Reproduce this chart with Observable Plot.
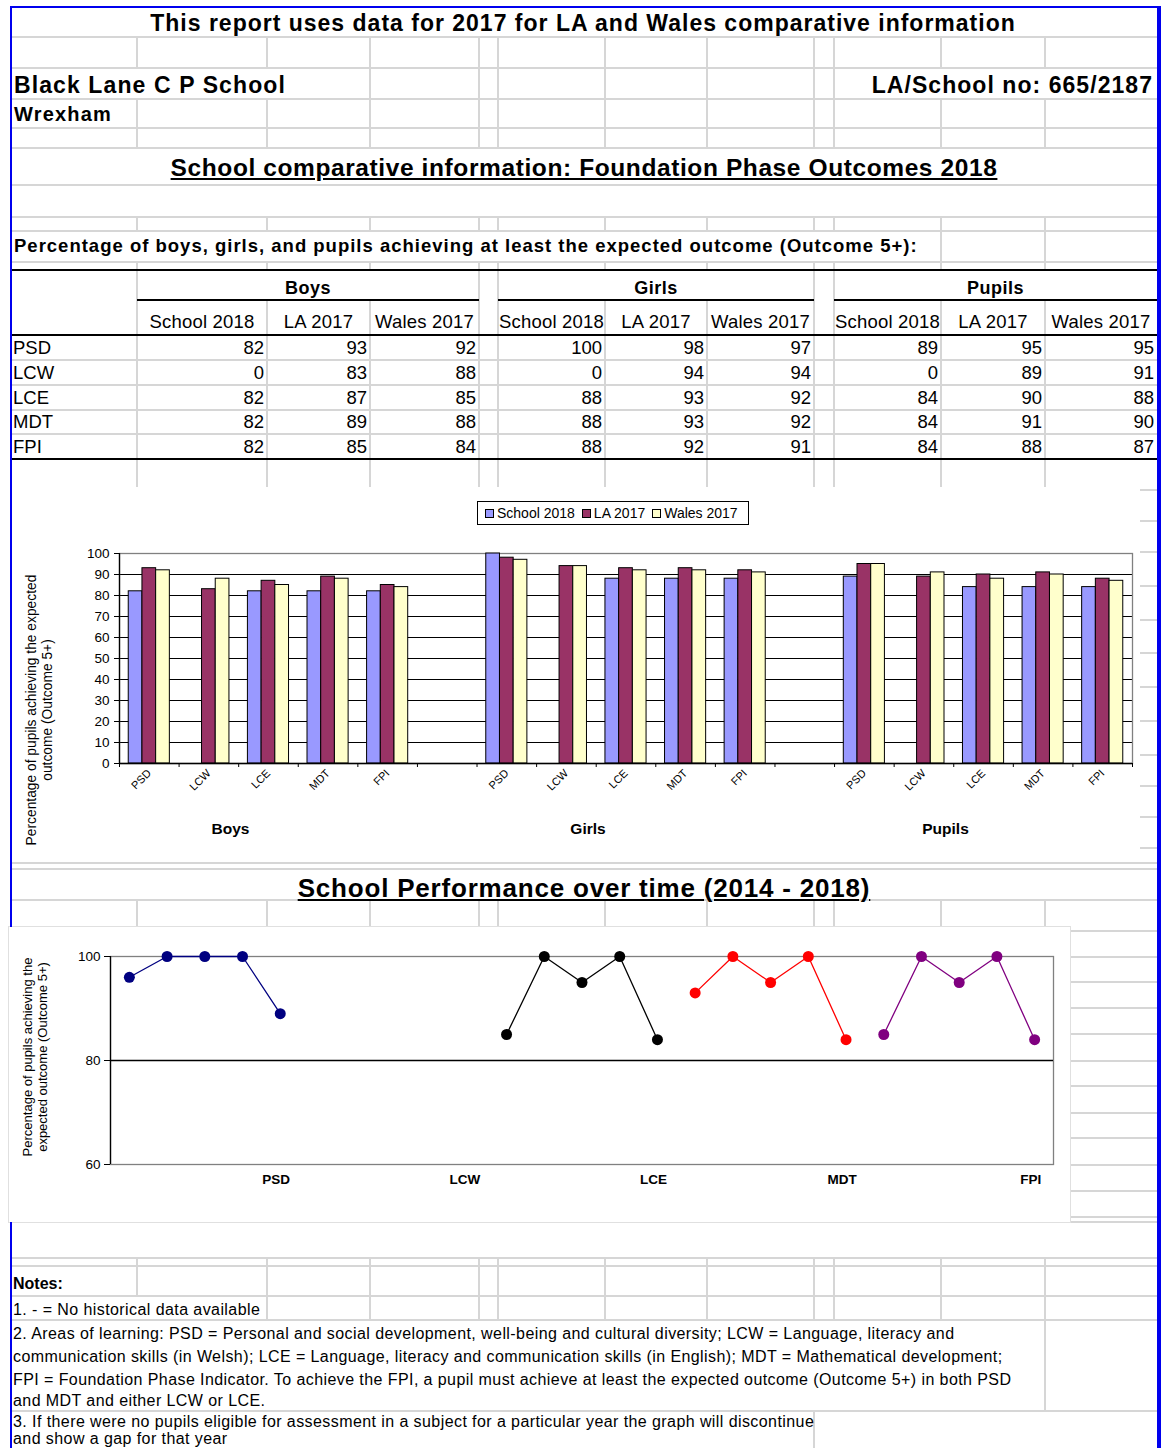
<!DOCTYPE html>
<html><head><meta charset="utf-8">
<script src="https://cdn.jsdelivr.net/npm/d3@7"></script>
<script src="https://cdn.jsdelivr.net/npm/@observablehq/plot@0.6"></script>
<style>
html,body{margin:0;padding:0;background:#fff}
#page{position:relative;width:1161px;height:1448px;overflow:hidden;background:#fff;font-family:"Liberation Sans",Arial,Helvetica,sans-serif;color:#000}
.t{position:absolute;white-space:nowrap}
.ln{position:absolute}
</style></head><body><div id="page"></div>
<script>
// ---------------- DATA ----------------
const areas = ["PSD", "LCW", "LCE", "MDT", "FPI"];
const groups = ["Boys", "Girls", "Pupils"];
const seriesNames = ["School 2018", "LA 2017", "Wales 2017"];
const seriesColors = ["#9999FF", "#993366", "#FFFFCC"];

const boysSchool2018 = [82, 0, 82, 82, 82];
const boysLA2017 = [93, 83, 87, 89, 85];
const boysWales2017 = [92, 88, 85, 88, 84];
const girlsSchool2018 = [100, 0, 88, 88, 88];
const girlsLA2017 = [98, 94, 93, 93, 92];
const girlsWales2017 = [97, 94, 92, 92, 91];
const pupilsSchool2018 = [89, 0, 84, 84, 84];
const pupilsLA2017 = [95, 89, 90, 91, 88];
const pupilsWales2017 = [95, 91, 88, 90, 87];

const barYTicks = [0, 10, 20, 30, 40, 50, 60, 70, 80, 90, 100];

const years = [2014, 2015, 2016, 2017, 2018];
const trendPSD = [96, 100, 100, 100, 89];
const trendLCW = [null, null, null, null, null];
const trendLCE = [85, 100, 95, 100, 84];
const trendMDT = [93, 100, 95, 100, 84];
const trendFPI = [85, 100, 95, 100, 84];
const trendColors = ["#000080", "#00CCFF", "#000000", "#FF0000", "#800080"];
const lineYTicks = [60, 80, 100];

const notes = [
  "1. - = No historical data available",
  "2. Areas of learning: PSD = Personal and social development, well-being and cultural diversity; LCW = Language, literacy and",
  "communication skills (in Welsh); LCE = Language, literacy and communication skills (in English); MDT = Mathematical development;",
  "FPI = Foundation Phase Indicator. To achieve the FPI, a pupil must achieve at least the expected outcome (Outcome 5+) in both PSD",
  "and MDT and either LCW or LCE.",
  "3. If there were no pupils eligible for assessment in a subject for a particular year the graph will discontinue",
  "and show a gap for that year"
];

const groupValues = [
  [boysSchool2018, boysLA2017, boysWales2017],
  [girlsSchool2018, girlsLA2017, girlsWales2017],
  [pupilsSchool2018, pupilsLA2017, pupilsWales2017]
];
const trendValues = [trendPSD, trendLCW, trendLCE, trendMDT, trendFPI];

// ---------------- PAGE HELPERS ----------------
const page = document.getElementById("page");
const FONT = '"Liberation Sans", Arial, Helvetica, sans-serif';
function addText(str, x, y, o = {}) {
  const d = document.createElement("div");
  d.className = "t";
  d.textContent = str;
  const size = o.size || 18;
  const lh = o.lh || Math.round(size * 1.3);
  d.style.fontSize = size + "px";
  d.style.lineHeight = lh + "px";
  d.style.top = (y - lh / 2) + "px";
  if (o.ls) d.style.letterSpacing = o.ls + "px";
  if (o.bold) d.style.fontWeight = "bold";
  if (o.underline) d.style.textDecoration = "underline";
  const align = o.align || "left";
  if (align === "center") { d.style.left = (x - 600) + "px"; d.style.width = "1200px"; d.style.textAlign = "center"; }
  else if (align === "right") { d.style.left = (x - 1200) + "px"; d.style.width = "1200px"; d.style.textAlign = "right"; }
  else d.style.left = x + "px";
  page.appendChild(d);
  return d;
}
function hline(y, x1, x2, color = "#d6d6d6", w = 2) {
  const d = document.createElement("div"); d.className = "ln";
  Object.assign(d.style, {left: x1 + "px", top: (y - w / 2) + "px", width: (x2 - x1) + "px", height: w + "px", background: color});
  page.appendChild(d);
}
function vline(x, y1, y2, color = "#d6d6d6", w = 2) {
  const d = document.createElement("div"); d.className = "ln";
  Object.assign(d.style, {left: (x - w / 2) + "px", top: y1 + "px", width: w + "px", height: (y2 - y1) + "px", background: color});
  page.appendChild(d);
}

// ---------------- SHEET GRID ----------------
const colX = [137, 267, 370, 479, 498, 605, 707, 814, 834, 941, 1045];
const L = 12, R = 1157;
[37, 68, 99, 128, 148, 185, 217, 231, 262].forEach(y => hline(y, L, R));
function cols(y1, y2, list = colX) { list.forEach(x => vline(x, y1, y2)); }
cols(37, 68);
cols(68, 99, [370, 479, 498, 605, 707, 814, 834]);
cols(99, 128); cols(128, 148); cols(217, 231);
cols(231, 262, [941, 1045]);
cols(262, 270);
cols(270, 300, [137, 479, 498, 814, 834]);
cols(300, 487);
[360, 385, 410, 434].forEach(y => hline(y, L, R));
[490, 521, 552, 586, 620, 653, 687, 721, 755, 786, 817, 848].forEach(y => hline(y, 1140, R));
hline(863, L, R); hline(869, L, R);
hline(900, L, R);
cols(900, 927);
[931, 957, 982, 1008, 1034, 1061, 1086, 1113, 1138, 1165, 1191, 1217].forEach(y => hline(y, 1070, R));
[1222, 1258, 1266, 1296, 1320, 1411].forEach(y => hline(y, L, R));
cols(1258, 1266); cols(1266, 1296);
cols(1296, 1320, colX.slice(1));
cols(1320, 1411, [1045]);
cols(1411, 1448, [814]);

hline(270, 10, R, "#000", 2);
hline(300, 137, 479, "#000", 2); hline(300, 498, 814, "#000", 2); hline(300, 834, R, "#000", 2);
hline(335, 10, R, "#000", 2);
hline(459, 10, R, "#000", 2);

// ---------------- HEADER TEXTS ----------------
addText("This report uses data for 2017 for LA and Wales comparative information", 583, 23, {size: 23, ls: 1.0, bold: true, align: "center"});
addText("Black Lane C P School", 14, 85, {size: 23, ls: 1.1, bold: true});
addText("LA/School no: 665/2187", 1153, 85, {size: 23, ls: 1.05, bold: true, align: "right"});
addText("Wrexham", 14, 114, {size: 20, ls: 1.2, bold: true});
addText("School comparative information: Foundation Phase Outcomes 2018", 584, 168, {size: 24.5, ls: 0.6, bold: true, underline: true, align: "center"});
addText("Percentage of boys, girls, and pupils achieving at least the expected outcome (Outcome 5+):", 14, 246, {size: 18.5, ls: 1.0, bold: true});

// ---------------- TABLE ----------------
const groupCells = [[137, 267, 370, 479], [498, 605, 707, 814], [834, 941, 1045, 1157]];
const rowY = [348, 373, 398, 422, 447];
groups.forEach((g, gi) => {
  const c = groupCells[gi];
  addText(g, (c[0] + c[3]) / 2, 288, {size: 18, ls: 0.5, bold: true, align: "center"});
  seriesNames.forEach((s, si) => {
    addText(s, (c[si] + c[si + 1]) / 2, 322, {size: 18.5, ls: 0.2, align: "center"});
    areas.forEach((a, ai) => addText(String(groupValues[gi][si][ai]), c[si + 1] - 3, rowY[ai], {size: 18.5, align: "right"}));
  });
});
areas.forEach((a, ai) => addText(a, 13, rowY[ai], {size: 18.5}));

// ---------------- BAR CHART ----------------
const slots = [];
groups.forEach((g, gi) => {
  areas.forEach(a => slots.push(g + "|" + a));
  if (gi < groups.length - 1) slots.push("gap" + gi);
});
const barData = [];
groups.forEach((g, gi) => areas.forEach((a, ai) => seriesNames.forEach((s, si) =>
  barData.push({slot: g + "|" + a, series: s, value: groupValues[gi][si][ai]}))));
const groupLabelData = groups.map(g => ({slot: g + "|LCE", label: g}));

const W1 = 1128, H1 = 373, ml1 = 107, mr1 = 8, mt1 = 66, mb1 = 97;
const step1 = (W1 - ml1 - mr1) / slots.length;
const bw = step1 * 0.23, pad = (step1 - 3 * bw) / 2;

const chart1 = Plot.plot({
  width: W1, height: H1, marginLeft: ml1, marginRight: mr1, marginTop: mt1, marginBottom: mb1,
  style: {fontFamily: FONT, fontSize: "13px", background: "white", color: "black", overflow: "visible"},
  x: {type: "band", domain: slots, padding: 0, round: false},
  y: {domain: [0, 100]},
  marks: [
    Plot.gridY(barYTicks, {stroke: "black", strokeOpacity: 1, strokeWidth: 1}),
    Plot.frame({stroke: "#808080", strokeWidth: 1.3}),
    ...seriesNames.map((s, si) => Plot.barY(barData.filter(d => d.series === s && d.value > 0), {
      x: "slot", y: "value", fill: seriesColors[si], stroke: "black", strokeWidth: 1,
      insetLeft: pad + si * bw, insetRight: step1 - pad - (si + 1) * bw
    })),
    Plot.ruleY([0], {stroke: "black", strokeWidth: 1.3}),
    Plot.ruleX([slots[0]], {dx: -step1 / 2, stroke: "black", strokeWidth: 1.3}),
    Plot.axisY(barYTicks, {tickSize: 5, tickPadding: 5, fontSize: 13.5, label: null}),
    Plot.axisX(slots, {tickSize: 4, tickFormat: () => "", dx: -step1 / 2, label: null}),
    Plot.axisX([slots[slots.length - 1]], {tickSize: 4, tickFormat: () => "", dx: step1 / 2, label: null}),
    Plot.axisX(slots.filter(s => !s.startsWith("gap")), {tickSize: 0, tickPadding: 8, tickRotate: -45,
      tickFormat: d => d.split("|")[1], fontSize: 11, label: null}),
    Plot.text(groupLabelData, {x: "slot", text: "label", frameAnchor: "bottom", dy: 70, dx: -38,
      fontWeight: "bold", fontSize: 15.5})
  ]
});
const c1 = document.createElement("div");
Object.assign(c1.style, {position: "absolute", left: "12px", top: "487px", width: W1 + "px", height: H1 + "px", background: "white"});
c1.appendChild(chart1);
page.appendChild(c1);

// legend
const leg = document.createElement("div");
Object.assign(leg.style, {position: "absolute", left: "477px", top: "501px", width: "272px", height: "24px",
  border: "1px solid #000", background: "white", fontSize: "14px", lineHeight: "22px", display: "flex",
  alignItems: "center", paddingLeft: "7px", boxSizing: "border-box", whiteSpace: "nowrap"});
seriesNames.forEach((s, si) => {
  const sw = document.createElement("span");
  Object.assign(sw.style, {display: "inline-block", width: "7px", height: "7px", border: "1px solid #000",
    background: seriesColors[si], marginRight: "3px"});
  const tx = document.createElement("span"); tx.textContent = s; tx.style.marginRight = "7px";
  leg.appendChild(sw); leg.appendChild(tx);
});
page.appendChild(leg);

function rotLabel(lines, cx, cy, size, lh) {
  const d = document.createElement("div");
  const w = 340, h = lines.length * lh;
  Object.assign(d.style, {position: "absolute", left: (cx - w / 2) + "px", top: (cy - h / 2) + "px", width: w + "px",
    height: h + "px", fontSize: size + "px", lineHeight: lh + "px", textAlign: "center", transform: "rotate(-90deg)",
    whiteSpace: "nowrap"});
  d.innerHTML = lines.join("<br>");
  page.appendChild(d);
}
rotLabel(["Percentage of pupils achieving the expected", "outcome (Outcome 5+)"], 40, 710, 13.8, 16);

// ---------------- SECTION 2 ----------------
addText("School Performance over time (2014 - 2018)", 584, 888, {size: 26, ls: 0.8, bold: true, underline: true, align: "center"});

const trendSlots = [];
const trendData = [];
areas.forEach((a, ai) => years.forEach((yr, yi) => {
  trendSlots.push(a + "|" + yr);
  trendData.push({slot: a + "|" + yr, area: a, value: trendValues[ai][yi]});
}));

const W2 = 1061, H2 = 295, ml2 = 101, mr2 = 17, mt2 = 29, mb2 = 58;
const step2 = (W2 - ml2 - mr2) / trendSlots.length;
const chart2 = Plot.plot({
  width: W2, height: H2, marginLeft: ml2, marginRight: mr2, marginTop: mt2, marginBottom: mb2,
  style: {fontFamily: FONT, fontSize: "13px", background: "white", color: "black", overflow: "visible"},
  x: {type: "band", domain: trendSlots, padding: 0, round: false},
  y: {domain: [60, 100]},
  color: {domain: areas, range: trendColors},
  marks: [
    Plot.frame({stroke: "#808080", strokeWidth: 1.3}),
    Plot.ruleY([80], {stroke: "black", strokeWidth: 1.3}),
    Plot.ruleX([trendSlots[0]], {dx: -step2 / 2, stroke: "black", strokeWidth: 1.3}),
    Plot.axisY(lineYTicks, {tickSize: 6, tickPadding: 4, fontSize: 13.5, label: null}),
    Plot.axisX(areas.map(a => a + "|2018"), {tickSize: 0, tickPadding: 10, tickFormat: d => d.split("|")[0],
      fontWeight: "bold", fontSize: 13.5, label: null, dx: -4}),
    Plot.line(trendData, {x: "slot", y: "value", z: "area", stroke: "area", strokeWidth: 1.3}),
    Plot.dot(trendData.filter(d => d.value != null), {x: "slot", y: "value", fill: "area", r: 5.5})
  ]
});
const c2 = document.createElement("div");
Object.assign(c2.style, {position: "absolute", left: "9px", top: "927px", width: W2 + "px", height: H2 + "px",
  background: "white", outline: "1px solid #e0e0e0"});
c2.appendChild(chart2);
page.appendChild(c2);
rotLabel(["Percentage of pupils achieving the", "expected outcome (Outcome 5+)"], 35, 1057, 13, 15);

// ---------------- NOTES ----------------
addText("Notes:", 13, 1283, {size: 16, bold: true});
const noteY = [1309, 1333, 1356, 1379, 1400, 1421, 1439];
notes.forEach((n, i) => addText(n, 13, noteY[i], {size: 16, ls: 0.42, lh: i === notes.length - 1 ? 18 : 21}));

// ---------------- BLUE BORDER ----------------
hline(7, 10, 1161, "#0000EE", 2);
vline(11, 6, 927, "#0000EE", 2);
vline(11, 1222, 1448, "#0000EE", 2);
const rb = document.createElement("div");
Object.assign(rb.style, {position: "absolute", left: "1157px", top: "6px", width: "4px", height: "1442px", background: "#0000EE"});
page.appendChild(rb);
</script></body></html>
